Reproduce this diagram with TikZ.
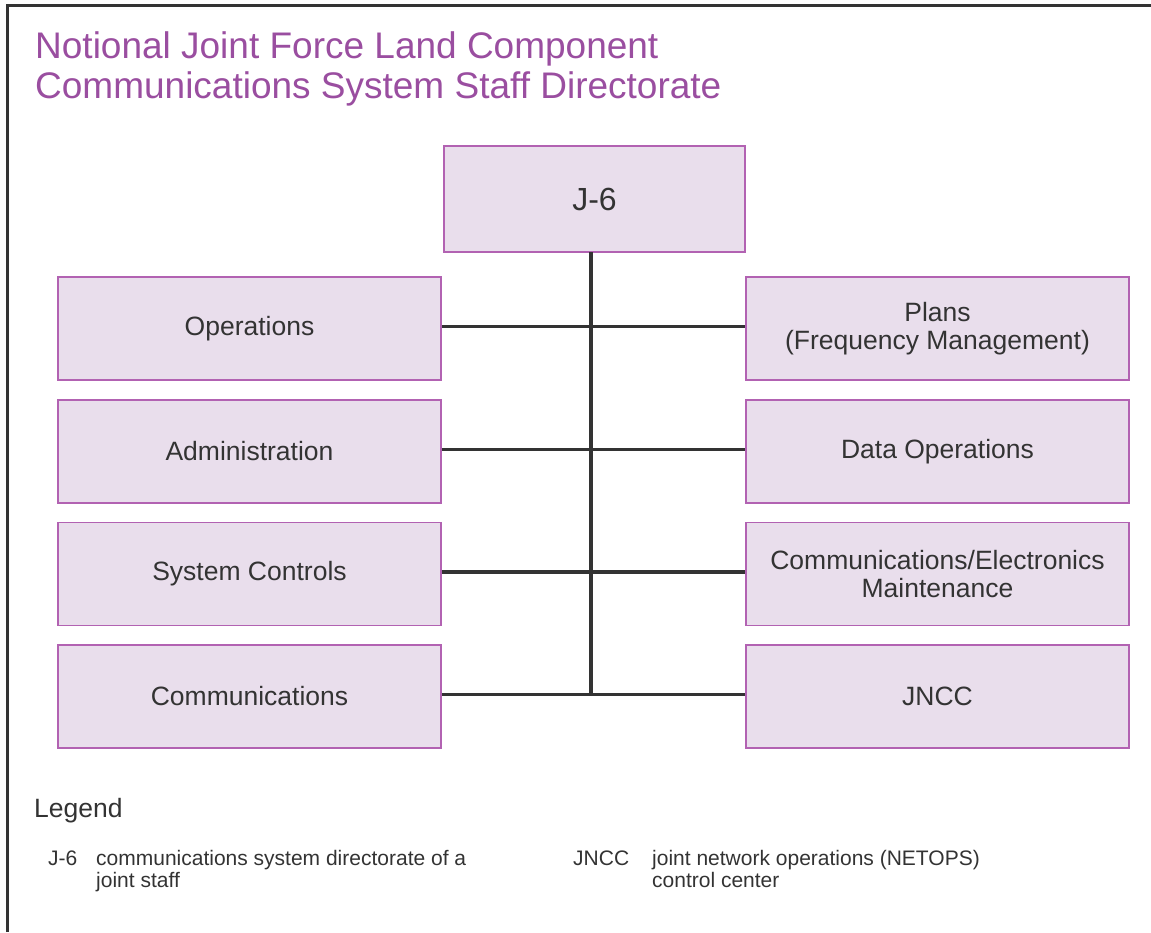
\documentclass[tikz,border=0pt]{standalone}
\usepackage{fontspec}
\setmainfont{Liberation Sans}
\usepackage{tikz}

\definecolor{titlepurple}{RGB}{154,78,160}
\definecolor{boxfill}{RGB}{233,222,236}
\definecolor{boxline}{RGB}{178,98,178}
\definecolor{darktext}{RGB}{51,51,51}

\tikzset{
  unit/.style={rectangle, draw=boxline, line width=1.5pt, fill=boxfill,
    text=darktext, minimum width=383pt, minimum height=103pt, align=center,
    font=\fontsize{26.5}{28}\selectfont},
  link/.style={draw=darktext, line width=3.5pt},
  legendtext/.style={anchor=base west, inner sep=0pt, text=darktext,
    align=left, font=\fontsize{21}{22.5}\selectfont}
}

\begin{document}
\begin{tikzpicture}[x=1pt,y=-1pt]
\useasboundingbox (0,0) rectangle (1151,932);

% frame
\draw[darktext, line width=3pt] (7,932) -- (7,5) -- (1151,5);

% title (base = last line)
\node (title) [anchor=base west, inner sep=0pt, align=left, text=titlepurple,
  font=\fontsize{37}{40}\selectfont] at (35,98)
  {Notional Joint Force Land Component\\Communications System Staff Directorate};

\node (j6) [unit, minimum width=301pt, minimum height=106pt,
  font=\fontsize{32}{36}\selectfont] at (594.5,199) {J-6};

\node (ops) [unit] at (249.5,328.5) {Operations};
\node (admin) [unit] at (249.5,451.5) {Administration};
\node (sysctl) [unit] at (249.5,574) {System Controls};
\node (comm) [unit] at (249.5,696.5) {Communications};

\node (plans) [unit] at (937.5,328.5) {Plans\\(Frequency Management)};
\node (dataops) [unit] at (937.5,451.5) {Data Operations};
\node (ceme) [unit] at (937.5,574) {Communications/Electronics\\Maintenance};
\node (jncc) [unit] at (937.5,696.5) {JNCC};

\coordinate (spine) at (591,252);
\coordinate (spineend) at ([yshift=2pt]comm.east);
\draw[link] (spine) -- (spine |- spineend);
\draw[link] ([yshift=2pt]ops.east) -- ([yshift=2pt]plans.west);
\draw[link] ([yshift=2pt]admin.east) -- ([yshift=2pt]dataops.west);
\draw[link] ([yshift=2pt]sysctl.east) -- ([yshift=2pt]ceme.west);
\draw[link] ([yshift=2pt]comm.east) -- ([yshift=2pt]jncc.west);

% legend
\node (legend) [anchor=base west, inner sep=0pt, text=darktext,
  font=\fontsize{26.5}{30}\selectfont] at (34,817) {Legend};

\node (keyj6) [legendtext] at (48,865) {J-6};
\node (defj6) [legendtext] at (96,887.5) {communications system directorate of a\\joint staff};
\node (keyjncc) [legendtext] at (573,865) {JNCC};
\node (defjncc) [legendtext] at (652,887.5) {joint network operations (NETOPS)\\control center};
\end{tikzpicture}
\end{document}
